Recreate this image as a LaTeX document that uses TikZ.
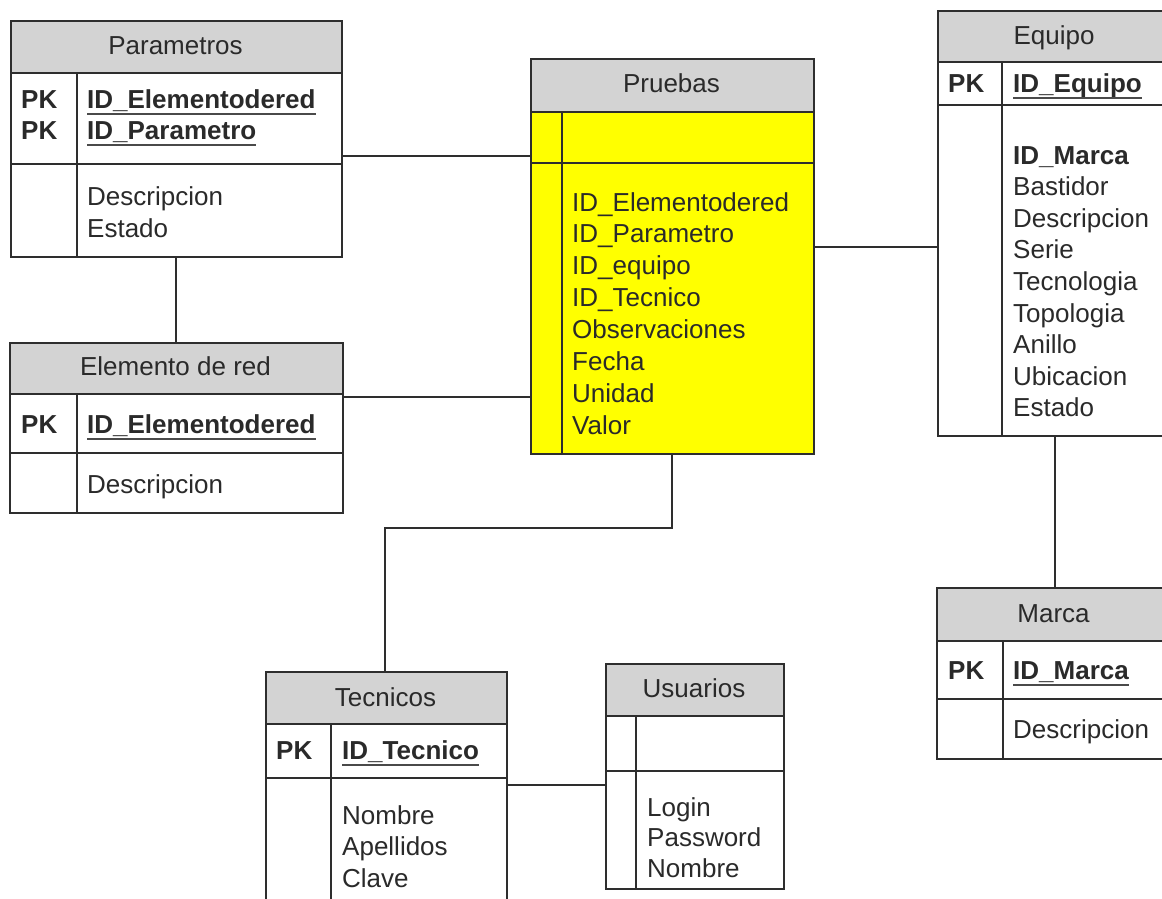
\documentclass[tikz,border=0pt]{standalone}
\usepackage{fontspec}
\setmainfont{Liberation Sans}
\definecolor{ln}{HTML}{2E2E2E}
\definecolor{hdr}{HTML}{D3D3D3}
\definecolor{txt}{HTML}{2A2A2A}
\definecolor{yel}{HTML}{FFFF00}
\newcommand\erfont{\fontsize{26}{30}\selectfont}
% #1 name, #2 left, #3 top, #4 right, #5 header bottom, #6 key bottom, #7 bottom, #8 divider x, #9 body fill
\newcommand\ertab[9]{%
  \fill[hdr] (#2,#3) rectangle (#4,#5);
  \fill[#9] (#2,#5) rectangle (#4,#7);
  \node[frame, minimum width={(#4-#2)*1pt}, minimum height={(#7-#3)*1pt}] (#1) at (#2,#3) {};
  \draw[conn] (#2,#5) -- (#4,#5);
  \draw[conn] (#2,#6) -- (#4,#6);
  \draw[conn] (#8,#5) -- (#8,#7);
}
\tikzset{
  frame/.style={draw=ln, line width=1.6pt, inner sep=0pt, anchor=north west},
  conn/.style={draw=ln, line width=1.6pt},
  tl/.style={anchor=base west, inner sep=0pt, text=txt, font=\erfont},
  ttl/.style={anchor=base, inner sep=0pt, text=txt, font=\erfont},
  pk/.style={anchor=base west, inner sep=0pt, text=txt, font=\erfont\bfseries},
  ul/.style={draw=txt!85, line width=1.7pt}
}
\begin{document}
\begin{tikzpicture}[x=1pt,y=-1pt]
\useasboundingbox (0,0) rectangle (1162,898);
\clip (0,0) rectangle (1162,898);
\fill[white] (0,0) rectangle (1162,898);

% tables
\ertab{par}{10}{20}{341}{73}{164}{256}{77}{white}
\ertab{ele}{9}{342}{342}{394}{453}{512}{77}{white}
\ertab{pru}{530}{58}{813}{112}{163}{453}{562}{yel}
\ertab{equ}{937}{10}{1171}{62}{105}{435}{1002}{white}
\ertab{mar}{936}{587}{1171}{641}{699}{758}{1003}{white}
\ertab{tec}{265}{671}{506}{724}{778}{915}{331}{white}
\ertab{usu}{605}{663}{783}{716}{771}{888}{636}{white}

% Parametros
\node[ttl] (parT) at (175.5,54) {Parametros};
\node[pk] (parK1) at (21,108) {PK};
\node[pk] (parK2) at (21,139) {PK};
\node[pk] (parF1) at (87,108) {ID\_Elementodered};
\node[pk] (parF2) at (87,139) {ID\_Parametro};
\draw[ul] ([yshift=-6pt]parF1.base west) -- ([yshift=-6pt]parF1.base east);
\draw[ul] ([yshift=-6pt]parF2.base west) -- ([yshift=-6pt]parF2.base east);
\node[tl] (parA1) at (87,205) {Descripcion};
\node[tl] (parA2) at (87,237) {Estado};

% Elemento de red
\node[ttl] (eleT) at (175.5,375) {Elemento de red};
\node[pk] (eleK) at (21,433) {PK};
\node[pk] (eleF) at (87,433) {ID\_Elementodered};
\draw[ul] ([yshift=-6pt]eleF.base west) -- ([yshift=-6pt]eleF.base east);
\node[tl] (eleA) at (87,493) {Descripcion};

% Pruebas
\node[ttl] (pruT) at (671.5,92) {Pruebas};
\foreach \t [count=\i from 0] in {ID\_Elementodered,ID\_Parametro,ID\_equipo,ID\_Tecnico,Observaciones,Fecha,Unidad,Valor}
  \node[tl] (pruA\i) at (572,{211+\i*31.9}) {\t};

% Equipo
\node[ttl] (equT) at (1054,44) {Equipo};
\node[pk] (equK) at (948,92) {PK};
\node[pk] (equF) at (1013,92) {ID\_Equipo};
\draw[ul] ([yshift=-6pt]equF.base west) -- ([yshift=-6pt]equF.base east);
\node[pk] (equA0) at (1013,164) {ID\_Marca};
\foreach \t [count=\i from 1] in {Bastidor,Descripcion,Serie,Tecnologia,Topologia,Anillo,Ubicacion,Estado}
  \node[tl] (equA\i) at (1013,{164+\i*31.6}) {\t};

% Marca
\node[ttl] (marT) at (1053.5,622) {Marca};
\node[pk] (marK) at (948,679) {PK};
\node[pk] (marF) at (1013,679) {ID\_Marca};
\draw[ul] ([yshift=-6pt]marF.base west) -- ([yshift=-6pt]marF.base east);
\node[tl] (marA) at (1013,738) {Descripcion};

% Tecnicos
\node[ttl] (tecT) at (385.5,706) {Tecnicos};
\node[pk] (tecK) at (276,759) {PK};
\node[pk] (tecF) at (342,759) {ID\_Tecnico};
\draw[ul] ([yshift=-6pt]tecF.base west) -- ([yshift=-6pt]tecF.base east);
\foreach \t [count=\i from 0] in {Nombre,Apellidos,Clave}
  \node[tl] (tecA\i) at (342,{824+\i*31.5}) {\t};

% Usuarios
\node[ttl] (usuT) at (694,697) {Usuarios};
\foreach \t [count=\i from 0] in {Login,Password,Nombre}
  \node[tl] (usuA\i) at (647,{816+\i*30.5}) {\t};

% connectors
\coordinate (h1) at (0,156);
\coordinate (h2) at (0,397);
\coordinate (h3) at (0,247);
\coordinate (h4) at (0,785);
\coordinate (v1) at (176,0);
\coordinate (v2) at (1055,0);
\coordinate (v3) at (385,0);
\coordinate (bend) at (672,528);
\draw[conn] (par.east |- h1) -- (pru.west |- h1);
\draw[conn] (par.south -| v1) -- (ele.north -| v1);
\draw[conn] (ele.east |- h2) -- (pru.west |- h2);
\draw[conn] (pru.east |- h3) -- (equ.west |- h3);
\draw[conn] (equ.south -| v2) -- (mar.north -| v2);
\draw[conn] (pru.south -| bend) -- (bend) -| (tec.north -| v3);
\draw[conn] (tec.east |- h4) -- (usu.west |- h4);
\end{tikzpicture}
\end{document}
